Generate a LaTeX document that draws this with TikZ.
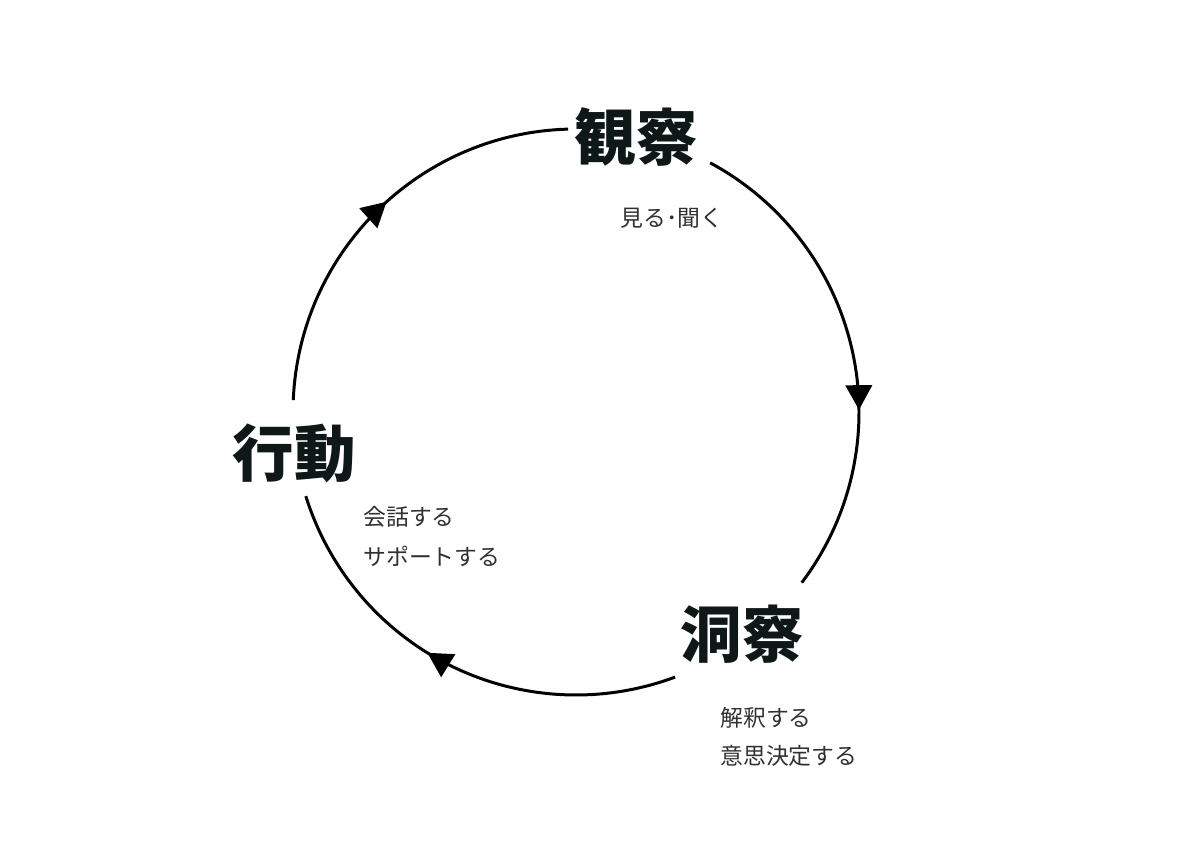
\documentclass[tikz,border=0pt]{standalone}
\usepackage{fontspec}
\newfontfamily\jpfont{Noto Sans CJK JP}
\usetikzlibrary{arrows.meta,decorations.markings}

\definecolor{ink}{RGB}{14,24,22}
\definecolor{softink}{RGB}{48,48,48}

\tikzset{
	title/.style={inner sep=0pt,text=ink,font=\jpfont\bfseries\fontsize{35}{40}\selectfont},
	note/.style={inner sep=0pt,anchor=west,text=softink,font=\jpfont\fontsize{13}{15}\selectfont},
	ring/.style={line width=1.7pt,black},
	flow/.style={postaction={decorate},decoration={markings,
		mark=at position #1 with {\arrow{Triangle[width=15pt,length=14pt]}}}}
}

\begin{document}
\begin{tikzpicture}
	\useasboundingbox (0,0) rectangle (24,17.34);
	\coordinate (c) at (11.52,9.10);

	\node[title] (obs) at (12.72,14.60) {観察};
	\node[title] (ins) at (14.84,4.66) {洞察};
	\node[title] (act) at (5.88,8.28) {行動};

	\node[note] (obs1) at (12.40,12.98) {見る･聞く};
	\node[note] (ins1) at (14.40,2.98) {解釈する};
	\node[note] (ins2) at (14.40,2.22) {意思決定する};
	\node[note] (act1) at (7.26,7.00) {会話する};
	\node[note] (act2) at (7.26,6.22) {サポートする};

	% ends of the three arcs
	\coordinate (a1) at ([shift={(c)}]61.7:5.66);
	\coordinate (a2) at ([shift={(c)}]-69.5:5.66);
	\coordinate (a3) at ([shift={(c)}]177.6:5.66);

	\draw[ring,flow=0.62] (a1) arc[start angle=61.7,end angle=-37.1,radius=5.66];
	\draw[ring,flow=0.56] (a2) arc[start angle=-69.5,end angle=-162.7,radius=5.66];
	\draw[ring,flow=0.53] (a3) arc[start angle=177.6,end angle=91.6,radius=5.66];
\end{tikzpicture}
\end{document}
